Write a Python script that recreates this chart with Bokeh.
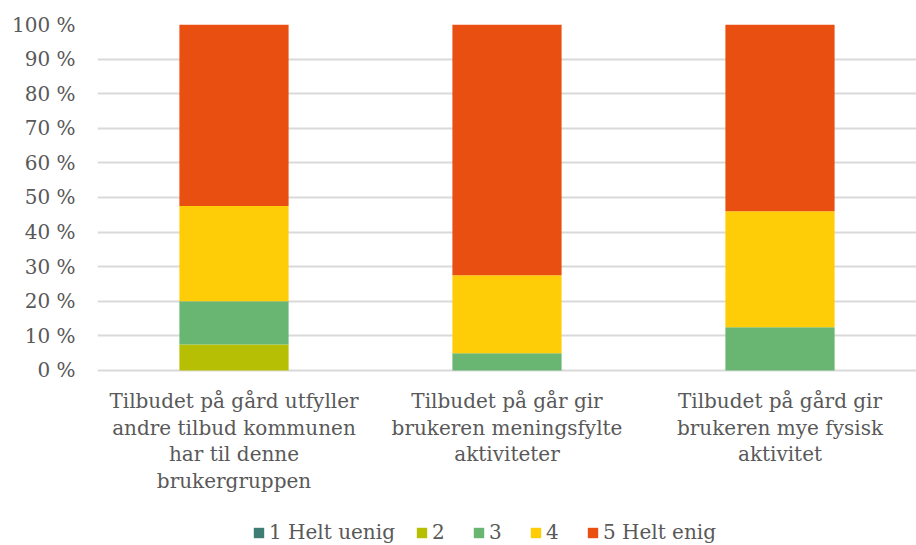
from bokeh.plotting import figure
from bokeh.models import FactorRange, Legend, LegendItem, FixedTicker, CustomJSTickFormatter
from bokeh.core.properties import value
from bokeh.embed import file_html
from bokeh.resources import INLINE

categories = [
    "Tilbudet på gård utfyller\nandre tilbud kommunen\nhar til denne\nbrukergruppen",
    "Tilbudet på går gir\nbrukeren meningsfylte\naktiviteter",
    "Tilbudet på gård gir\nbrukeren mye fysisk\naktivitet",
]
series_names = ["1 Helt uenig", "2", "3", "4", "5 Helt enig"]
s1 = [0.0, 0.0, 0.0]
s2 = [7.5, 0.0, 0.0]
s3 = [12.5, 5.0, 12.5]
s4 = [27.5, 22.5, 33.5]
s5 = [52.5, 72.5, 54.0]
colors = ["#3f7c74", "#b7bf05", "#69b673", "#ffcd08", "#e84f10"]
y_ticks = [0, 10, 20, 30, 40, 50, 60, 70, 80, 90, 100]

FONT = "DejaVu Serif"
GRAY = "#595959"
FS = "20px"
Y_BOTTOM = -50.6      # frame extends below 0 % to hold the category labels and legend
LABEL_Y = -5.5        # top of category label block (in axis units)

keys = ["s1", "s2", "s3", "s4", "s5"]
data = {"cat": categories, "s1": s1, "s2": s2, "s3": s3, "s4": s4, "s5": s5}

p = figure(x_range=FactorRange(*categories, range_padding=0), y_range=(Y_BOTTOM, 100),
           frame_width=819, frame_height=521, output_backend="svg", toolbar_location=None,
           min_border_left=97, min_border_right=0, min_border_top=24, min_border_bottom=0,
           x_axis_location=None)
for ax in p.xaxis:
    ax.visible = False

renderers = p.vbar_stack(keys, x="cat", width=0.4, color=colors, source=data, line_color=None)

p.outline_line_color = None
p.xgrid.grid_line_color = None
p.ygrid.ticker = FixedTicker(ticks=y_ticks)
p.ygrid.grid_line_color = "#d9d9d9"
p.ygrid.grid_line_width = 2

p.yaxis.ticker = FixedTicker(ticks=y_ticks)
p.yaxis.formatter = CustomJSTickFormatter(code="return tick + ' %';")
p.yaxis.axis_line_color = None
p.yaxis.major_tick_line_color = None
p.yaxis.minor_tick_line_color = None
p.yaxis.major_label_text_font = FONT
p.yaxis.major_label_text_font_size = FS
p.yaxis.major_label_text_color = GRAY
p.yaxis.major_label_standoff = 16

# category labels below the bars
p.text(x="cat", y=LABEL_Y, text="cat", source=data,
       text_font=value(FONT), text_font_size=value(FS), text_color=GRAY,
       text_align="center", text_baseline="top", text_line_height=1.1)

items = [LegendItem(label=n, renderers=[r]) for n, r in zip(series_names, renderers)]
legend = Legend(items=items, orientation="horizontal", location=(155, 1),
                label_text_font=FONT, label_text_font_size=FS, label_text_color=GRAY,
                glyph_width=13, glyph_height=13, spacing=20, label_standoff=4,
                border_line_color=None, background_fill_alpha=0, margin=0, padding=0)
p.add_layout(legend, "center")

open("out.html", "w").write(file_html(p, INLINE))
